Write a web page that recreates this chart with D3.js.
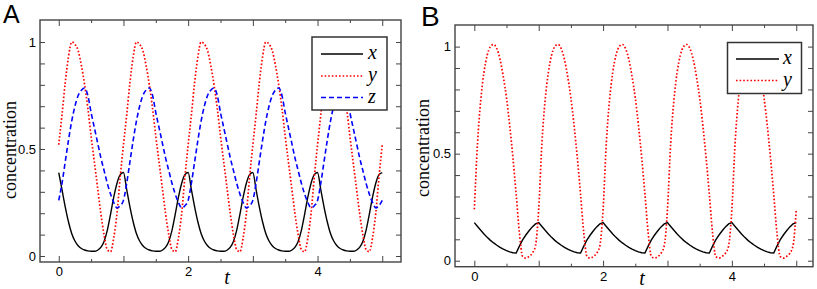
<!DOCTYPE html>
<html>
<head>
<meta charset="utf-8">
<script src="https://cdn.jsdelivr.net/npm/d3@7"></script>
<style>
  body { margin: 0; background: #fff; }
  svg { display: block; }
</style>
</head>
<body>
<div id="chart"></div>
<script>
// sample times, every 0.05 from 0 to 5
const tSamples = [
  0,0.05,0.1,0.15,0.2,0.25,0.3,0.35,0.4,0.45,0.5,0.55,0.6,0.65,0.7,0.75,0.8,0.85,0.9,0.95,
  1,1.05,1.1,1.15,1.2,1.25,1.3,1.35,1.4,1.45,1.5,1.55,1.6,1.65,1.7,1.75,1.8,1.85,1.9,1.95,
  2,2.05,2.1,2.15,2.2,2.25,2.3,2.35,2.4,2.45,2.5,2.55,2.6,2.65,2.7,2.75,2.8,2.85,2.9,2.95,
  3,3.05,3.1,3.15,3.2,3.25,3.3,3.35,3.4,3.45,3.5,3.55,3.6,3.65,3.7,3.75,3.8,3.85,3.9,3.95,
  4,4.05,4.1,4.15,4.2,4.25,4.3,4.35,4.4,4.45,4.5,4.55,4.6,4.65,4.7,4.75,4.8,4.85,4.9,4.95,
  5
];

// panel A
const aX = [
  0.39,0.31,0.23,0.16,0.105,0.07,0.048,0.035,0.028,0.024,0.022,0.022,0.027,0.04,0.068,0.12,0.195,0.275,0.34,0.38,
  0.39,0.31,0.23,0.16,0.105,0.07,0.048,0.035,0.028,0.024,0.022,0.022,0.027,0.04,0.068,0.12,0.195,0.275,0.34,0.38,
  0.39,0.31,0.23,0.16,0.105,0.07,0.048,0.035,0.028,0.024,0.022,0.022,0.027,0.04,0.068,0.12,0.195,0.275,0.34,0.38,
  0.39,0.31,0.23,0.16,0.105,0.07,0.048,0.035,0.028,0.024,0.022,0.022,0.027,0.04,0.068,0.12,0.195,0.275,0.34,0.38,
  0.39,0.31,0.23,0.16,0.105,0.07,0.048,0.035,0.028,0.024,0.022,0.022,0.027,0.04,0.068,0.12,0.195,0.275,0.34,0.38,
  0.39
];
const aY = [
  0.52,0.66,0.81,0.93,1.0,0.99,0.96,0.89,0.8,0.69,0.56,0.44,0.32,0.2,0.1,0.03,0.02,0.085,0.2,0.37,
  0.52,0.66,0.81,0.93,1.0,0.99,0.96,0.89,0.8,0.69,0.56,0.44,0.32,0.2,0.1,0.03,0.02,0.085,0.2,0.37,
  0.52,0.66,0.81,0.93,1.0,0.99,0.96,0.89,0.8,0.69,0.56,0.44,0.32,0.2,0.1,0.03,0.02,0.085,0.2,0.37,
  0.52,0.66,0.81,0.93,1.0,0.99,0.96,0.89,0.8,0.69,0.56,0.44,0.32,0.2,0.1,0.03,0.02,0.085,0.2,0.37,
  0.52,0.66,0.81,0.93,1.0,0.99,0.96,0.89,0.8,0.69,0.56,0.44,0.32,0.2,0.1,0.03,0.02,0.085,0.2,0.37,
  0.52
];
const aZ = [
  0.26,0.34,0.44,0.54,0.63,0.7,0.75,0.775,0.785,0.75,0.67,0.6,0.53,0.46,0.4,0.34,0.29,0.25,0.225,0.235,
  0.26,0.34,0.44,0.54,0.63,0.7,0.75,0.775,0.785,0.75,0.67,0.6,0.53,0.46,0.4,0.34,0.29,0.25,0.225,0.235,
  0.26,0.34,0.44,0.54,0.63,0.7,0.75,0.775,0.785,0.75,0.67,0.6,0.53,0.46,0.4,0.34,0.29,0.25,0.225,0.235,
  0.26,0.34,0.44,0.54,0.63,0.7,0.75,0.775,0.785,0.75,0.67,0.6,0.53,0.46,0.4,0.34,0.29,0.25,0.225,0.235,
  0.26,0.34,0.44,0.54,0.63,0.7,0.75,0.775,0.785,0.75,0.67,0.6,0.53,0.46,0.4,0.34,0.29,0.25,0.225,0.235,
  0.26
];

// panel B
const bX = [
  0.178,0.16,0.142,0.125,0.109,0.095,0.083,0.072,0.062,0.054,0.047,0.041,0.037,0.036,0.068,0.097,0.12,0.14,0.158,0.172,
  0.178,0.16,0.142,0.125,0.109,0.095,0.083,0.072,0.062,0.054,0.047,0.041,0.037,0.036,0.068,0.097,0.12,0.14,0.158,0.172,
  0.178,0.16,0.142,0.125,0.109,0.095,0.083,0.072,0.062,0.054,0.047,0.041,0.037,0.036,0.068,0.097,0.12,0.14,0.158,0.172,
  0.178,0.16,0.142,0.125,0.109,0.095,0.083,0.072,0.062,0.054,0.047,0.041,0.037,0.036,0.068,0.097,0.12,0.14,0.158,0.172,
  0.178,0.16,0.142,0.125,0.109,0.095,0.083,0.072,0.062,0.054,0.047,0.041,0.037,0.036,0.068,0.097,0.12,0.14,0.158,0.172,
  0.178
];
const bY = [
  0.24,0.55,0.75,0.88,0.96,1.0,1.01,0.99,0.94,0.86,0.76,0.63,0.48,0.31,0.13,0.02,0.012,0.02,0.035,0.07,
  0.24,0.55,0.75,0.88,0.96,1.0,1.01,0.99,0.94,0.86,0.76,0.63,0.48,0.31,0.13,0.02,0.012,0.02,0.035,0.07,
  0.24,0.55,0.75,0.88,0.96,1.0,1.01,0.99,0.94,0.86,0.76,0.63,0.48,0.31,0.13,0.02,0.012,0.02,0.035,0.07,
  0.24,0.55,0.75,0.88,0.96,1.0,1.01,0.99,0.94,0.86,0.76,0.63,0.48,0.31,0.13,0.02,0.012,0.02,0.035,0.07,
  0.24,0.55,0.75,0.88,0.96,1.0,1.01,0.99,0.94,0.86,0.76,0.63,0.48,0.31,0.13,0.02,0.012,0.02,0.035,0.07,
  0.24
];

const xMajorTicks = [0, 1, 2, 3, 4, 5];
const xMinorTicks = [0.5, 1.5, 2.5, 3.5, 4.5];
const xTickLabels = [0, 2, 4];
const yTicks = [0, 0.1, 0.2, 0.3, 0.4, 0.5, 0.6, 0.7, 0.8, 0.9, 1];
const yTickLabels = [0, 0.5, 1];

const frameColor = "#444";
const serif = "'Liberation Serif', 'Times New Roman', Times, 'DejaVu Serif', serif";
const sans = "'Liberation Sans', Arial, Helvetica, sans-serif";
const styles = {
    x: {color: "#000", dash: null, width: 1.4},
    y: {color: "#ff0000", dash: "1.6,2", width: 1.7},
    z: {color: "#0000ff", dash: "5,3", width: 1.6}
};

const svg = d3.select("#chart")
    .append("svg")
        .attr("width", 817)
        .attr("height", 289);

function drawPanel(p) {
    const [left, right, top, bottom] = p.frame;
    const x = d3.scaleLinear().domain(p.xDomain).range([left, right]);
    const y = d3.scaleLinear().domain(p.yDomain).range([bottom, top]);
    const g = svg.append("g");

    // curves
    p.series.forEach((s) => {
        const st = styles[s.name];
        const line = d3.line()
            .x((d, i) => x(tSamples[i]))
            .y((d) => y(d))
            .curve(s.curve || d3.curveMonotoneX);
        g.append("path")
            .datum(s.values)
            .attr("fill", "none")
            .attr("stroke", st.color)
            .attr("stroke-width", st.width)
            .attr("stroke-dasharray", st.dash)
            .attr("d", line);
    });

    // ticks on all four sides, pointing inward
    const styleAxis = (sel) => {
        sel.select(".domain").remove();
        sel.selectAll(".tick line").attr("stroke", frameColor).attr("stroke-width", 1);
        sel.selectAll(".tick text")
            .attr("fill", "#000")
            .attr("font-family", sans)
            .attr("font-size", 13);
    };
    const fmtX = (d) => xTickLabels.includes(d) ? d : "";
    const fmtY = (d) => yTickLabels.includes(d) ? d : "";

    g.append("g").attr("transform", `translate(0,${bottom})`)
        .call(d3.axisBottom(x).tickValues(xMajorTicks).tickSizeInner(-6).tickSizeOuter(0).tickPadding(5).tickFormat(fmtX))
        .call(styleAxis);
    g.append("g").attr("transform", `translate(0,${bottom})`)
        .call(d3.axisBottom(x).tickValues(xMinorTicks).tickSizeInner(-3).tickSizeOuter(0).tickFormat(""))
        .call(styleAxis);
    g.append("g").attr("transform", `translate(0,${top})`)
        .call(d3.axisTop(x).tickValues(xMajorTicks).tickSizeInner(-6).tickSizeOuter(0).tickFormat(""))
        .call(styleAxis);
    g.append("g").attr("transform", `translate(0,${top})`)
        .call(d3.axisTop(x).tickValues(xMinorTicks).tickSizeInner(-3).tickSizeOuter(0).tickFormat(""))
        .call(styleAxis);
    g.append("g").attr("transform", `translate(${left},0)`)
        .call(d3.axisLeft(y).tickValues(yTicks).tickSizeInner(-5).tickSizeOuter(0).tickPadding(4).tickFormat(fmtY))
        .call(styleAxis);
    g.append("g").attr("transform", `translate(${right},0)`)
        .call(d3.axisRight(y).tickValues(yTicks).tickSizeInner(-5).tickSizeOuter(0).tickFormat(""))
        .call(styleAxis);

    // frame
    g.append("rect")
        .attr("x", left).attr("y", top)
        .attr("width", right - left).attr("height", bottom - top)
        .attr("fill", "none")
        .attr("stroke", frameColor)
        .attr("stroke-width", 1.4);

    // legend
    const lg = p.legend;
    g.append("rect")
        .attr("x", lg.x).attr("y", lg.y)
        .attr("width", lg.w).attr("height", lg.h)
        .attr("fill", "#fff")
        .attr("stroke", "#333")
        .attr("stroke-width", 1.5);
    p.series.forEach((s, i) => {
        const st = styles[s.name];
        const ry = lg.rows[i];
        g.append("line")
            .attr("x1", lg.lineX0).attr("x2", lg.lineX1)
            .attr("y1", ry).attr("y2", ry)
            .attr("stroke", st.color)
            .attr("stroke-width", st.width)
            .attr("stroke-dasharray", st.dash);
        g.append("text")
            .attr("x", lg.textX).attr("y", ry + 5)
            .attr("font-family", serif)
            .attr("font-style", "italic")
            .attr("font-size", 20)
            .text(s.name);
    });

    // axis titles
    g.append("text")
        .attr("transform", `translate(${p.yTitle[0]},${p.yTitle[1]}) rotate(-90)`)
        .attr("text-anchor", "middle")
        .attr("font-family", serif)
        .attr("font-size", 18)
        .text("concentration");
    g.append("text")
        .attr("x", p.xTitle[0]).attr("y", p.xTitle[1])
        .attr("text-anchor", "middle")
        .attr("font-family", serif)
        .attr("font-style", "italic")
        .attr("font-size", 20)
        .text("t");

    // panel letter
    g.append("text")
        .attr("x", p.letter[0]).attr("y", p.letter[1])
        .attr("font-family", sans)
        .attr("font-size", p.letter[2])
        .text(p.name);
}

drawPanel({
    name: "A",
    frame: [40, 401, 20, 262],
    xDomain: [-0.29, 5.29],
    yDomain: [-0.028, 1.103],
    series: [
        {name: "x", values: aX},
        {name: "y", values: aY},
        {name: "z", values: aZ}
    ],
    legend: {x: 312, y: 37, w: 75, h: 73, rows: [54, 76, 97.5], lineX0: 321, lineX1: 363, textX: 368},
    yTitle: [16, 150],
    xTitle: [227, 284],
    letter: [3, 23, 25]
});

drawPanel({
    name: "B",
    frame: [455, 813, 25, 266.7],
    xDomain: [-0.3, 5.26],
    yDomain: [-0.028, 1.101],
    series: [
        {name: "x", values: bX, curve: d3.curveLinear},
        {name: "y", values: bY}
    ],
    legend: {x: 727.5, y: 42.5, w: 74, h: 51, rows: [59, 80.5], lineX0: 736, lineX1: 779, textX: 783},
    yTitle: [429, 148],
    xTitle: [642, 285],
    letter: [421, 26, 28]
});
</script>
</body>
</html>
